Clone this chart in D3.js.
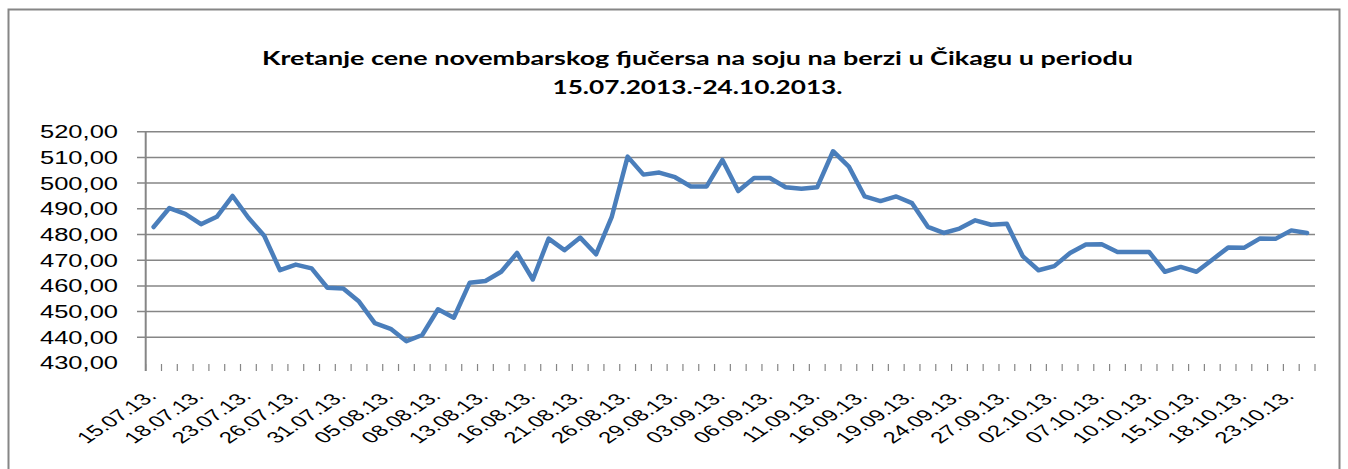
<html>
<head>
    <meta charset="utf-8">
    <script src="https://d3js.org/d3.v7.min.js"></script>
    <style>
        body { margin: 0; background: #fff; }
    </style>
</head>
<body>
    <svg id="chart" width="1348" height="469"></svg>

    <script>
        // trading days 15.07.2013 - 24.10.2013
        let dates = [
            "15.07.13.", "16.07.13.", "17.07.13.", "18.07.13.", "19.07.13.", "22.07.13.", "23.07.13.",
            "24.07.13.", "25.07.13.", "26.07.13.", "29.07.13.", "30.07.13.", "31.07.13.",
            "01.08.13.", "02.08.13.", "05.08.13.", "06.08.13.", "07.08.13.", "08.08.13.", "09.08.13.",
            "12.08.13.", "13.08.13.", "14.08.13.", "15.08.13.", "16.08.13.", "19.08.13.", "20.08.13.",
            "21.08.13.", "22.08.13.", "23.08.13.", "26.08.13.", "27.08.13.", "28.08.13.", "29.08.13.", "30.08.13.",
            "02.09.13.", "03.09.13.", "04.09.13.", "05.09.13.", "06.09.13.", "09.09.13.", "10.09.13.",
            "11.09.13.", "12.09.13.", "13.09.13.", "16.09.13.", "17.09.13.", "18.09.13.", "19.09.13.",
            "20.09.13.", "23.09.13.", "24.09.13.", "25.09.13.", "26.09.13.", "27.09.13.", "30.09.13.",
            "01.10.13.", "02.10.13.", "03.10.13.", "04.10.13.", "07.10.13.", "08.10.13.", "09.10.13.",
            "10.10.13.", "11.10.13.", "14.10.13.", "15.10.13.", "16.10.13.", "17.10.13.", "18.10.13.",
            "21.10.13.", "22.10.13.", "23.10.13.", "24.10.13."
        ]

        let prices = [
            482.9, 490.3, 488.0, 484.0, 486.9, 495.0, 486.5, 479.5, 466.1, 468.3,
            466.8, 459.3, 459.0, 453.9, 445.5, 443.3, 438.5, 440.9, 450.9, 447.6,
            461.2, 461.9, 465.5, 472.8, 462.5, 478.4, 473.9, 478.8, 472.3, 487.0,
            510.3, 503.3, 504.1, 502.3, 498.7, 498.7, 509.0, 496.9, 502.0, 502.0,
            498.4, 497.8, 498.4, 512.4, 506.4, 494.8, 493.0, 494.8, 492.2, 483.0,
            480.6, 482.3, 485.5, 483.8, 484.2, 471.6, 466.1, 467.7, 472.8, 476.1,
            476.2, 473.2, 473.2, 473.2, 465.5, 467.4, 465.5, 470.2, 474.9, 474.8,
            478.4, 478.3, 481.6, 480.6
        ]

        let yTicks = [430, 440, 450, 460, 470, 480, 490, 500, 510, 520]

        let titleLines = [
            "Kretanje cene novembarskog fjučersa na soju na berzi u Čikagu u periodu",
            "15.07.2013.-24.10.2013."
        ]

        let svg = d3.select("#chart")
        let grey = "#868686"
        let fmt = d3.formatLocale({decimal: ",", thousands: ".", grouping: [3], currency: ["", ""]}).format(".2f")

        // outer frame
        svg.append("rect")
            .attr("x", 8.5).attr("y", 9.5)
            .attr("width", 1331).attr("height", 480)
            .attr("fill", "none").attr("stroke", grey).attr("stroke-width", 2)

        let x = d3.scaleBand()
            .domain(dates)
            .range([145.7, 1315])
            .padding(0)

        let y = d3.scaleLinear()
            .domain([430, 520])
            .range([363, 131.7])

        // title
        svg.selectAll(".title")
            .data(titleLines)
            .enter().append("text")
            .attr("class", "title")
            .attr("x", 697.5)
            .attr("y", (d, i) => 65 + i * 29)
            .attr("text-anchor", "middle")
            .attr("textLength", (d, i) => i == 0 ? 871 : 290)
            .attr("lengthAdjust", "spacingAndGlyphs")
            .style("font", "bold 19px Lato, 'Open Sans', sans-serif")
            .text(d => d)

        // gridlines
        svg.selectAll(".grid")
            .data(yTicks.filter(t => t > 430))
            .enter().append("line")
            .attr("x1", 137).attr("x2", 1315)
            .attr("y1", d => y(d)).attr("y2", d => y(d))
            .attr("stroke", grey).attr("stroke-width", 1.5)

        // y labels
        svg.selectAll(".ylab")
            .data(yTicks)
            .enter().append("text")
            .attr("x", 118)
            .attr("y", d => y(d))
            .attr("dy", "0.36em")
            .attr("text-anchor", "end")
            .attr("textLength", 78)
            .attr("lengthAdjust", "spacingAndGlyphs")
            .style("font", "18px 'Liberation Sans', Arial, sans-serif")
            .style("fill", "#000")
            .text(d => fmt(d))

        // y axis line
        svg.append("line")
            .attr("x1", 145.7).attr("x2", 145.7)
            .attr("y1", y(520)).attr("y2", y(430) + 8)
            .attr("stroke", grey).attr("stroke-width", 2)

        // category tick marks
        let bounds = dates.map(d => x(d)).concat([x.range()[1]])
        svg.selectAll(".xtick")
            .data(bounds)
            .enter().append("line")
            .attr("x1", d => d).attr("x2", d => d)
            .attr("y1", y(430) + 1).attr("y2", y(430) + 8)
            .attr("stroke", grey).attr("stroke-width", 1.2)

        // x labels, every third day, sheared like the original
        svg.selectAll(".xlab")
            .data(dates.filter((d, i) => i % 3 == 0))
            .enter().append("text")
            .attr("transform", d => `translate(${x(d) + x.bandwidth() / 2 + 4},397) scale(1.5,1) rotate(-45)`)
            .attr("text-anchor", "end")
            .style("font", "16px 'Liberation Sans', Arial, sans-serif")
            .style("fill", "#000")
            .text(d => d)

        // price line
        let line = d3.line()
            .x((d, i) => x(dates[i]) + x.bandwidth() / 2)
            .y(d => y(d))

        svg.append("path")
            .datum(prices)
            .attr("d", line)
            .attr("fill", "none")
            .attr("stroke", "#4a7ebb")
            .attr("stroke-width", 4.5)
            .attr("stroke-linejoin", "round")
            .attr("stroke-linecap", "round")
    </script>
</body>
</html>
